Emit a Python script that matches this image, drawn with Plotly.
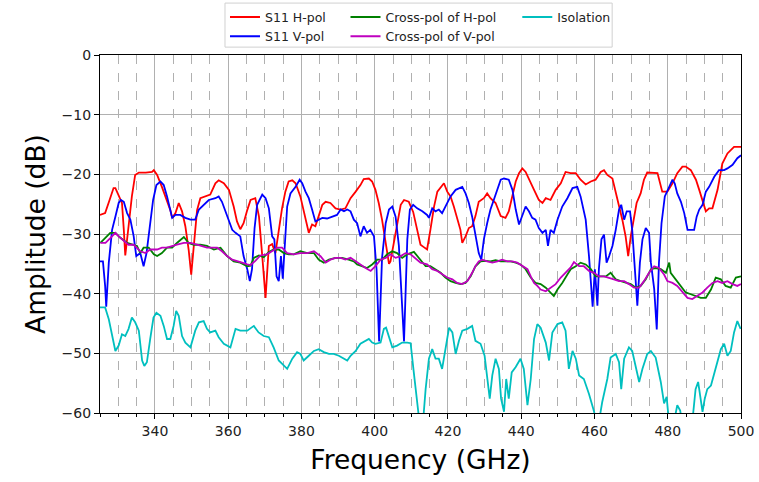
import plotly.graph_objects as go

# ---------------- data ----------------
f_h = [325.0,326.4,327.5,328.7,329.2,330.1,331.0,331.5,331.9,332.8,333.7,334.6,335.6,337.5,339.2,339.7,340.6,341.9,343.3,344.2,344.7,345.6,346.5,347.4,348.3,349.2,349.9,350.8,351.5,352.4,353.8,355.1,356.5,357.4,358.8,360.2,361.5,362.4,363.3,364.2,365.2,366.1,367.4,368.4,369.3,370.2,371.1,372.0,372.9,373.8,374.7,375.6,376.5,377.5,378.4,379.7,380.6,381.6,382.0,382.9,383.8,384.7,385.7,386.6,387.9,389.3,390.7,392.0,393.4,394.8,396.1,397.0,398.4,399.3,400.2,401.1,402.0,403.0,403.9,404.3,405.2,406.1,407.1,408.0,409.3,410.5,411.4,412.5,413.4,414.3,415.2,416.2,417.1,418.0,418.9,419.8,420.7,421.6,422.5,423.4,423.9,424.8,425.7,426.6,427.5,428.4,429.8,430.7,431.6,433.0,434.4,435.7,436.6,437.6,438.5,439.4,440.3,441.2,442.1,443.5,444.8,445.8,446.7,448.0,449.4,450.8,452.1,453.5,454.9,456.2,457.6,459.0,460.3,461.7,462.6,463.5,464.9,465.8,466.7,467.6,468.5,469.2,469.9,470.6,471.5,472.6,473.5,474.4,475.8,477.2,478.5,479.9,481.3,482.6,484.0,484.9,486.3,487.7,488.6,489.5,490.4,491.3,492.2,493.6,494.9,496.3,498.1,500.0]
s11_h = [-26.8,-26.5,-24.5,-22.3,-22.3,-23.7,-24.8,-29.3,-33.6,-28.7,-23.7,-20.1,-19.7,-19.7,-19.6,-19.3,-20.1,-22.1,-24.3,-26.0,-27.3,-26.5,-24.8,-26.2,-28.7,-32.6,-36.8,-30.4,-26.0,-24.0,-23.7,-23.4,-21.5,-21.0,-21.5,-22.6,-25.4,-27.9,-29.2,-28.2,-26.0,-24.3,-24.0,-27.1,-33.7,-40.7,-32.0,-31.7,-33.2,-29.3,-25.7,-22.9,-21.2,-21.0,-21.5,-23.7,-26.0,-28.7,-29.8,-28.4,-28.7,-27.0,-25.1,-24.6,-24.8,-25.7,-25.9,-25.7,-24.0,-22.9,-21.8,-20.8,-20.7,-21.2,-22.6,-24.8,-27.6,-31.5,-35.0,-34.6,-31.5,-28.2,-25.1,-24.3,-24.6,-26.3,-28.6,-31.8,-32.2,-32.6,-29.3,-25.4,-22.9,-22.1,-21.5,-22.9,-23.7,-25.4,-27.6,-29.3,-31.5,-30.4,-29.0,-28.7,-27.0,-24.6,-24.0,-23.2,-24.0,-24.8,-27.0,-27.3,-26.2,-23.7,-21.2,-19.8,-19.0,-19.6,-20.9,-22.6,-24.3,-24.8,-24.0,-24.3,-22.6,-21.5,-19.6,-19.8,-19.8,-20.9,-21.7,-21.2,-20.9,-19.6,-19.3,-20.1,-20.7,-22.9,-25.4,-27.6,-30.4,-33.7,-30.4,-27.6,-24.8,-23.2,-20.9,-19.7,-19.8,-19.8,-22.9,-22.9,-21.5,-19.8,-18.7,-18.7,-19.3,-20.9,-22.6,-24.6,-26.2,-25.7,-25.7,-22.6,-18.2,-16.5,-15.4,-15.4]

f_v = [325.0,325.8,326.4,326.7,327.4,328.3,329.2,330.1,330.7,331.5,332.4,333.3,334.2,334.9,336.0,336.9,337.7,338.6,339.5,340.4,341.5,342.4,343.3,344.7,345.6,346.9,348.3,349.7,351.0,352.0,353.3,354.7,356.5,357.4,358.3,359.7,361.1,362.0,363.3,364.2,365.2,365.9,366.5,367.2,367.9,369.3,370.2,371.1,372.0,372.6,373.2,373.8,374.4,374.9,375.4,376.1,377.0,378.4,379.5,380.2,381.1,382.0,382.9,383.8,384.7,385.7,387.0,388.4,389.7,390.7,391.6,392.5,393.4,394.3,395.2,396.1,397.0,397.9,398.8,399.8,400.5,401.2,402.0,403.0,403.9,404.8,405.7,406.6,407.5,408.0,408.9,409.6,410.5,411.6,413.0,414.3,414.8,415.7,416.6,417.5,418.4,419.3,420.7,422.1,423.9,424.8,425.7,426.6,427.5,428.4,429.1,429.8,430.7,431.6,432.5,433.5,434.4,435.3,436.6,437.6,438.5,439.4,440.3,441.2,442.1,443.0,443.9,444.8,445.8,446.7,447.3,448.0,448.9,449.9,451.2,452.6,454.0,455.3,456.2,457.6,458.5,459.1,459.5,460.1,460.8,461.2,461.9,462.6,463.3,464.0,464.9,465.8,466.7,467.3,468.1,468.8,469.7,470.3,471.0,471.7,472.4,473.1,474.0,474.9,475.4,476.3,477.0,477.6,478.3,479.2,480.4,481.3,481.9,482.6,483.6,484.5,485.4,486.3,487.2,487.9,488.6,489.5,490.4,491.3,492.7,494.0,495.4,496.3,497.7,499.0,500.0]
s11_v = [-34.6,-34.6,-38.7,-42.2,-34.8,-29.3,-27.1,-24.8,-24.3,-24.6,-26.5,-27.6,-30.4,-33.7,-33.2,-35.4,-33.2,-28.7,-24.3,-21.8,-21.2,-21.8,-23.7,-27.3,-26.8,-26.8,-27.3,-27.6,-27.6,-25.9,-25.1,-24.3,-24.0,-23.7,-24.6,-27.1,-29.3,-29.8,-30.4,-33.7,-35.9,-37.9,-35.9,-29.0,-25.1,-23.4,-24.0,-25.7,-30.4,-30.9,-37.1,-37.9,-33.7,-37.5,-33.0,-25.4,-23.2,-22.1,-20.9,-21.5,-22.9,-24.0,-25.9,-27.9,-27.6,-27.3,-27.4,-27.1,-26.8,-25.9,-26.2,-25.9,-26.2,-27.6,-28.2,-30.4,-28.7,-29.8,-29.3,-30.4,-35.9,-48.0,-34.0,-28.2,-25.9,-25.4,-27.1,-32.0,-42.0,-48.0,-30.9,-25.9,-25.1,-25.7,-26.2,-26.8,-27.3,-25.7,-26.2,-25.9,-26.5,-25.4,-23.7,-22.6,-22.1,-23.2,-24.8,-27.1,-30.4,-33.2,-34.3,-30.9,-28.2,-25.9,-24.3,-22.3,-20.9,-20.7,-20.9,-22.6,-25.9,-28.4,-27.0,-25.4,-26.2,-27.3,-27.6,-29.0,-29.8,-29.3,-32.0,-29.3,-29.8,-27.6,-25.4,-24.0,-22.3,-22.1,-23.7,-27.6,-33.7,-38.7,-42.2,-35.9,-42.0,-35.9,-30.9,-30.1,-34.8,-33.7,-32.0,-29.3,-25.9,-25.1,-27.6,-26.2,-26.2,-29.3,-35.9,-42.0,-34.8,-30.9,-29.0,-29.8,-34.8,-39.2,-46.0,-34.8,-28.2,-23.7,-22.1,-20.9,-21.5,-23.2,-24.6,-26.5,-29.3,-29.3,-29.3,-27.1,-25.9,-25.1,-22.9,-22.1,-20.4,-19.3,-19.3,-19.0,-18.4,-17.3,-16.8]

f_xh = [325.1,327.8,329.2,330.5,332.4,333.7,335.1,336.0,336.9,338.3,339.7,340.6,341.9,343.3,344.7,346.0,347.9,349.2,350.6,352.4,354.2,356.1,357.9,359.7,361.5,363.3,365.2,366.1,367.0,368.4,369.7,371.1,372.4,373.8,375.2,376.5,377.9,379.7,381.6,383.4,384.7,386.1,387.5,389.3,391.1,392.9,394.3,395.2,396.6,397.9,399.3,400.7,402.0,403.4,404.8,406.1,407.5,408.9,410.7,412.5,413.9,415.2,416.6,418.0,419.3,420.7,422.1,423.4,424.8,426.2,427.5,428.9,430.3,431.6,433.0,434.4,435.7,437.1,438.5,439.8,441.2,442.6,443.9,445.3,446.7,448.0,448.9,449.9,451.2,452.6,453.5,454.9,456.2,457.6,459.0,460.3,461.7,463.1,464.4,465.8,467.2,468.5,469.9,471.3,472.6,474.0,475.4,476.7,478.1,479.5,480.4,480.8,482.2,483.6,484.9,486.3,487.7,489.0,490.4,491.8,493.1,494.5,495.8,497.2,498.6,500.0]
xpol_h = [-31.5,-29.8,-29.8,-30.6,-31.5,-31.8,-32.0,-33.2,-32.3,-32.3,-33.4,-33.7,-33.2,-32.3,-32.3,-31.5,-30.5,-31.5,-31.8,-31.8,-32.0,-32.6,-32.3,-33.7,-34.6,-34.8,-35.4,-35.3,-34.0,-33.6,-33.9,-33.0,-32.6,-32.6,-33.2,-33.4,-33.4,-32.9,-33.2,-33.2,-34.3,-34.8,-34.3,-34.0,-34.0,-34.3,-34.6,-35.1,-35.4,-35.7,-35.1,-34.3,-34.3,-33.4,-32.9,-33.2,-34.0,-33.4,-33.0,-34.3,-35.4,-35.4,-35.9,-36.5,-37.3,-37.9,-38.2,-38.4,-38.2,-37.1,-35.4,-34.6,-34.5,-34.6,-34.4,-34.6,-34.6,-34.6,-34.8,-35.1,-35.9,-37.3,-38.2,-38.4,-39.0,-39.8,-40.4,-39.3,-38.2,-36.8,-35.9,-35.4,-34.8,-35.1,-35.9,-37.1,-37.1,-37.1,-36.5,-37.6,-37.9,-38.2,-38.4,-39.0,-38.7,-37.6,-35.9,-35.7,-35.9,-36.5,-34.8,-36.5,-37.6,-38.7,-39.8,-40.1,-40.4,-40.7,-40.7,-39.3,-37.3,-37.6,-38.7,-39.0,-37.3,-37.1]

f_xv = [325.1,326.5,327.8,329.2,330.1,331.5,332.8,334.2,336.0,337.4,338.7,340.6,341.9,343.3,344.7,346.0,347.9,349.7,351.5,352.9,354.2,355.6,357.0,358.3,359.7,361.1,362.4,363.8,365.2,366.1,367.4,368.8,370.6,372.0,373.4,374.7,376.1,377.9,379.7,381.6,383.4,385.2,386.6,387.9,389.3,390.7,392.0,393.4,394.8,396.1,397.5,398.9,400.2,401.6,403.0,404.3,405.7,407.1,408.4,409.8,411.1,412.5,414.3,415.7,417.1,418.4,419.8,421.2,422.5,423.9,425.3,426.6,427.5,428.4,429.4,430.7,432.1,433.5,434.8,436.2,437.6,438.9,440.3,441.7,442.6,443.5,444.4,445.3,446.7,448.0,449.4,450.8,452.1,453.5,454.4,455.8,457.1,458.5,459.9,461.2,462.6,464.0,465.3,466.7,468.1,469.4,470.8,472.2,473.5,474.9,476.3,477.6,479.0,479.9,481.3,482.6,484.0,485.4,486.7,488.1,489.5,490.8,492.2,493.6,494.9,496.3,497.7,499.0,500.0]
xpol_v = [-31.5,-31.5,-30.7,-29.8,-30.4,-31.2,-31.8,-31.8,-32.9,-33.2,-32.6,-32.6,-32.3,-32.3,-32.0,-31.8,-31.5,-31.5,-31.8,-32.0,-32.3,-32.3,-32.3,-32.9,-33.7,-34.3,-34.6,-34.8,-35.1,-35.2,-34.5,-33.6,-33.4,-32.9,-32.3,-32.3,-33.2,-33.4,-33.2,-33.2,-32.9,-33.7,-34.8,-34.3,-34.0,-34.0,-34.3,-34.0,-34.6,-35.1,-35.7,-36.2,-35.4,-34.3,-34.0,-33.4,-34.0,-33.7,-33.2,-33.4,-34.0,-34.8,-35.1,-35.9,-36.2,-36.8,-37.3,-37.6,-38.2,-38.4,-37.9,-36.5,-35.4,-34.6,-34.3,-34.6,-34.8,-34.6,-34.3,-34.6,-34.6,-34.8,-35.4,-35.9,-37.1,-38.2,-38.7,-39.3,-39.6,-39.0,-38.4,-37.3,-36.5,-35.6,-34.7,-35.4,-35.4,-36.2,-36.5,-37.1,-37.1,-37.3,-37.6,-37.9,-37.9,-38.4,-39.0,-39.0,-37.9,-36.5,-35.4,-35.7,-36.8,-37.9,-38.2,-38.7,-39.8,-40.7,-40.9,-40.4,-39.8,-39.0,-38.2,-37.9,-38.2,-37.9,-38.4,-38.7,-38.4]

f_iso = [325.0,326.4,327.4,328.3,329.2,330.1,331.0,331.9,332.8,333.7,334.6,335.6,336.5,337.1,337.8,338.7,339.6,340.4,341.5,342.4,343.3,344.2,345.1,345.8,346.5,347.4,348.3,349.7,351.0,352.0,353.3,354.2,355.1,356.5,357.4,358.8,359.7,360.6,362.0,363.3,365.2,367.0,368.3,369.7,371.1,372.4,373.8,375.2,376.1,377.5,378.8,379.7,380.6,382.0,383.4,384.7,386.1,387.5,388.8,390.2,391.6,392.5,393.4,394.8,396.1,397.5,398.4,399.3,400.2,401.6,402.5,403.1,403.9,404.8,406.1,407.5,408.9,409.8,410.6,411.4,412.3,413.0,413.9,414.8,415.7,416.6,417.5,418.4,419.3,420.3,421.2,422.1,423.0,423.9,425.3,426.6,427.5,428.9,430.0,430.7,431.4,432.1,433.0,433.9,434.5,435.3,435.9,436.6,437.4,438.5,439.8,440.7,441.7,442.6,443.5,444.4,445.3,446.7,447.6,448.5,449.9,451.2,452.1,453.0,454.0,454.9,455.8,457.1,458.5,459.9,460.8,462.1,463.5,464.4,465.8,466.7,467.3,468.1,469.4,470.3,471.3,472.2,473.1,474.4,475.4,476.7,478.1,479.0,479.7,480.4,481.7,482.6,483.4,484.0,486.3,487.6,488.3,489.0,489.5,490.1,490.8,491.8,492.7,493.6,494.5,495.4,496.3,497.2,498.1,499.0,499.9]
iso = [-42.3,-42.3,-44.3,-47.1,-49.6,-48.7,-46.8,-47.1,-45.9,-44.0,-44.8,-46.2,-51.2,-52.1,-51.5,-47.6,-44.0,-43.2,-43.7,-45.4,-47.6,-47.6,-45.4,-42.9,-43.7,-47.1,-48.2,-49.0,-46.2,-44.8,-44.6,-45.9,-46.5,-46.2,-47.3,-48.4,-48.7,-49.0,-45.9,-46.2,-46.2,-45.4,-46.5,-47.1,-47.3,-49.0,-51.2,-52.1,-52.6,-50.9,-49.8,-50.1,-51.2,-50.4,-49.6,-49.3,-49.8,-50.1,-50.1,-50.4,-50.9,-51.2,-50.4,-49.6,-48.4,-47.9,-47.6,-48.2,-48.4,-48.2,-45.9,-45.7,-47.1,-49.0,-48.7,-48.2,-48.2,-48.3,-52.8,-57.1,-62.0,-63.0,-56.0,-50.9,-49.3,-50.9,-50.9,-52.6,-49.0,-45.7,-46.5,-50.1,-47.9,-46.2,-45.9,-45.4,-47.9,-48.4,-50.4,-53.7,-57.6,-53.7,-50.9,-52.6,-57.6,-59.8,-54.3,-57.6,-53.2,-52.3,-50.9,-52.6,-58.7,-54.3,-47.6,-45.1,-45.7,-48.2,-51.2,-46.5,-45.1,-44.8,-46.2,-52.6,-49.6,-50.9,-53.7,-54.3,-56.8,-59.8,-63.0,-58.2,-54.3,-50.7,-50.1,-51.5,-56.0,-50.9,-49.0,-49.6,-52.6,-54.8,-52.6,-50.1,-49.6,-50.7,-54.8,-58.4,-57.3,-62.0,-61.5,-58.7,-59.6,-62.0,-64.0,-56.0,-54.8,-57.6,-59.8,-57.6,-56.0,-55.4,-53.2,-51.5,-49.3,-48.4,-50.4,-49.6,-46.5,-44.6,-45.9]

x_ticks = [340, 360, 380, 400, 420, 440, 460, 480, 500]
y_ticks = [0, -10, -20, -30, -40, -50, -60]

FONT = "DejaVu Sans"

fig = go.Figure()
series = [
    ("S11 H-pol", f_h, s11_h, "#ff0000", "legend"),
    ("S11 V-pol", f_v, s11_v, "#0000ff", "legend"),
    ("Cross-pol of H-pol", f_xh, xpol_h, "#008000", "legend2"),
    ("Cross-pol of V-pol", f_xv, xpol_v, "#bf00bf", "legend2"),
    ("Isolation", f_iso, iso, "#00bfbf", "legend3"),
]
for name, xs, ys, col, lg in series:
    fig.add_trace(go.Scatter(x=xs, y=ys, mode="lines", name=name,
                             line=dict(color=col, width=1.8), legend=lg))

leg_common = dict(orientation="v", yanchor="top", xanchor="left",
                  bgcolor="rgba(0,0,0,0)", borderwidth=0,
                  font=dict(family=FONT, size=12.5, color="#222"),
                  tracegroupgap=0, itemwidth=30)
y_leg = 1.147
fig.update_layout(
    width=759, height=482,
    margin=dict(l=100, r=18, t=55, b=69, autoexpand=False),
    paper_bgcolor="white", plot_bgcolor="white",
    font=dict(family=FONT, size=14, color="#222"),
    legend=dict(x=0.195, y=y_leg, **leg_common),
    legend2=dict(x=0.383, y=y_leg, **leg_common),
    legend3=dict(x=0.651, y=y_leg, **leg_common),
    shapes=[dict(type="rect", xref="paper", yref="paper",
                 x0=0.195, x1=0.799, y0=1.022, y1=1.145,
                 line=dict(color="#d0d0d0", width=1),
                 fillcolor="rgba(255,255,255,0.8)", layer="below")],
)
fig.update_xaxes(
    range=[325, 500], tickvals=x_ticks, ticks="outside", ticklen=5, tickwidth=1,
    tickcolor="black", showline=True, linecolor="black", linewidth=1.3, mirror=True,
    showgrid=True, gridcolor="#b0b0b0", gridwidth=1, zeroline=False,
    tickfont=dict(family=FONT, size=14, color="#222"),
    title=dict(text="Frequency (GHz)", font=dict(family=FONT, size=26.5, color="black"), standoff=12),
    minor=dict(dtick=5, tick0=325, ticks="outside", ticklen=3, tickcolor="black",
               showgrid=True, gridcolor="#b0b0b0", griddash="dash", gridwidth=1),
)
fig.update_yaxes(
    range=[-60, 0], tickvals=y_ticks, ticks="outside", ticklen=5, tickwidth=1,
    tickcolor="black", showline=True, linecolor="black", linewidth=1.3, mirror=True,
    showgrid=True, gridcolor="#b0b0b0", gridwidth=1, zeroline=False,
    tickfont=dict(family=FONT, size=14, color="#222"),
    title=dict(text="Amplitude (dB)", font=dict(family=FONT, size=26.5, color="black"), standoff=8),
)
fig.write_html("out.html")
